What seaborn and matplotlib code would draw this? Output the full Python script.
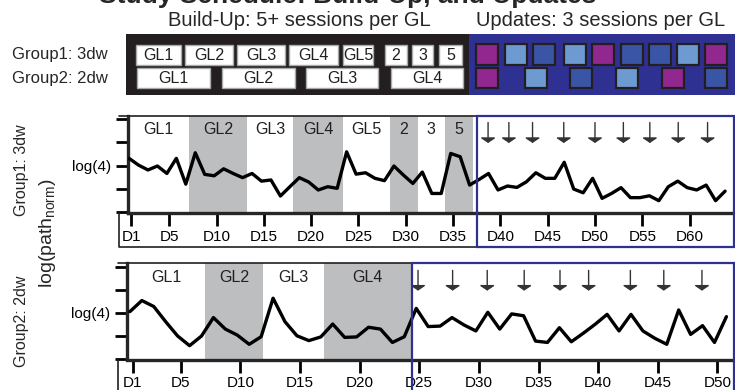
import numpy as np
import pandas as pd
import seaborn as sns
import matplotlib
matplotlib.use('Agg')
import matplotlib.pyplot as plt
from matplotlib.patches import Rectangle

# ---- data ----
# Group1 (3 days/week): one value per session, 64 sessions
g1_vals = [2.31, 2.02, 1.81, 1.98, 1.66, 2.31, 1.20, 2.55, 1.62, 1.56,
           1.86, 1.66, 1.48, 1.66, 1.33, 1.38, 0.69, 1.09, 1.48, 1.29,
           0.95, 1.09, 1.02, 2.59, 1.63, 1.69,
           1.45, 1.35, 1.98, 1.59, 1.23, 1.72, 0.80, 0.80, 2.52, 2.38,
           1.16, 1.40, 1.66, 0.95, 1.12, 1.06, 1.30, 1.69, 1.45, 1.45,
           2.14, 0.99, 0.83, 1.45, 0.59, 0.80, 1.05, 0.62, 0.62, 0.70,
           0.49, 1.09, 1.33, 1.05, 0.95, 1.16, 0.49, 0.90]
# Group2 (2 days/week): 51 sessions
g2_vals = [2.06, 2.54, 2.28, 1.62, 1.00, 0.58, 1.00, 1.80, 1.30, 1.04,
           0.64, 0.97, 2.64, 1.62, 1.01, 0.80, 0.96, 1.52, 0.94, 0.96,
           1.38, 1.30, 0.72, 0.97,
           2.20, 1.41, 1.43, 1.80, 1.48, 1.22, 2.03, 1.30, 1.96, 1.88,
           0.78, 0.72, 1.36, 0.75, 1.12, 1.51, 1.94, 1.22, 1.94, 1.22,
           0.90, 0.64, 2.13, 1.07, 1.45, 0.72, 1.84]

g1_phase_labels = ['GL1', 'GL2', 'GL3', 'GL4', 'GL5', '2', '3', '5']
g1_phase_edges = [0.64, 7.1, 13.22, 18.08, 23.36, 28.3, 31.3, 34.1, 37.1]
g1_update_start = 37.5
g1_update_days = [38.7, 40.9, 43.4, 46.7, 50.0, 53.0, 55.8, 58.8, 61.9]
g1_tick_days = [1, 5, 10, 15, 20, 25, 30, 35, 40, 45, 50, 55, 60]

g2_phase_labels = ['GL1', 'GL2', 'GL3', 'GL4']
g2_phase_edges = [0.5, 7.04, 11.9, 17.0, 24.4]
g2_update_start = 24.4
g2_update_days = [24.9, 27.8, 30.7, 33.8, 36.8, 39.2, 42.7, 45.5, 48.7]
g2_tick_days = [1, 5, 10, 15, 20, 25, 30, 35, 40, 45, 50]

# schedule schematic (build-up blocks and update sessions)
sched_row1_labels = ['GL1', 'GL2', 'GL3', 'GL4', 'GL5', '2', '3', '5']
sched_row1_spans = [(136, 181), (185, 233), (237, 285), (289, 338),
                    (343, 373), (385, 407), (412, 433), (439, 462)]
sched_row2_labels = ['GL1', 'GL2', 'GL3', 'GL4']
sched_row2_spans = [(137, 210), (222, 295), (306, 378), (391, 463)]
upd_row1_left = [476, 505, 533, 564, 592, 621, 649, 677, 705]
upd_row1_kind = ['M', 'L', 'D', 'L', 'M', 'D', 'D', 'L', 'M']
upd_row2_left = [476, 525, 570, 616, 662, 705]
upd_row2_kind = ['M', 'L', 'D', 'L', 'M', 'D']

NAVY = '#2E3192'
KIND_COLORS = {'M': '#92278F', 'L': '#6C9AD1', 'D': '#3A55A5'}
SHADE = '#BCBEC0'

sns.set_style('ticks')
plt.rcParams['font.family'] = ['Liberation Sans', 'DejaVu Sans']
plt.rcParams['mathtext.fontset'] = 'custom'
plt.rcParams['mathtext.rm'] = 'Liberation Sans'

W, H = 735, 390
fig = plt.figure(figsize=(W / 100, H / 100), dpi=100)


def fig_box(x0, y0, x1, y1):
    # pixel box (top-left origin) -> figure fraction rect
    return [x0 / W, 1 - y1 / H, (x1 - x0) / W, (y1 - y0) / H]


def draw_panel(ax, vals, xlim, labels, edges, upd_start, upd_days, ticks,
               ylim, box_bottom):
    df = pd.DataFrame({'day': np.arange(1, len(vals) + 1) - 0.25, 'val': vals})
    for i, lab in enumerate(labels):
        s, e = edges[i], edges[i + 1]
        if i % 2 == 1:
            ax.axvspan(s, e, color=SHADE, lw=0, zorder=0)
        ax.text((s + e) / 2, 3.55, lab, ha='center', va='center',
                fontsize=11.5, color='#231F20')
    sns.lineplot(data=df, x='day', y='val', ax=ax, color='black', lw=2.4,
                 legend=False, zorder=3)
    for d in upd_days:
        ax.annotate('', xy=(d, 2.97), xytext=(d, 3.85),
                    arrowprops=dict(arrowstyle='-|>,head_length=0.3,head_width=0.45',
                                    color='#333333', lw=1.0, shrinkA=0, shrinkB=0))
    ax.set_xlim(*xlim)
    ax.set_ylim(*ylim)
    ax.set_xticks(ticks)
    ax.set_xticklabels(['D%d' % d for d in ticks])
    ax.set_yticks([0, 1, 2, 3, 4])
    ax.set_yticklabels(['', '', 'log(4)', '', ''])
    ax.set_xlabel('')
    ax.set_ylabel('')
    for side in ['top', 'right']:
        ax.spines[side].set_visible(False)
    ax.spines['left'].set_linewidth(2.4)
    ax.spines['bottom'].set_linewidth(2.4)
    ax.tick_params(axis='both', direction='out', length=9, width=2.0,
                   labelsize=11, colors='black', pad=3, bottom=True, left=True)
    ax.patch.set_alpha(0)
    # outline boxes: build-up (black, open on the left above the axis)
    # and updates (navy)
    span = xlim[1] - xlim[0]
    left = xlim[0] - span * 9 / 607
    tr = ax.get_xaxis_transform()
    ax.plot([upd_start, left], [1, 1], transform=tr, color='#231F20', lw=1.2,
            clip_on=False, zorder=4)
    ax.plot([left, left, upd_start], [0, box_bottom, box_bottom], transform=tr,
            color='#231F20', lw=1.2, clip_on=False, zorder=4)
    ax.add_patch(Rectangle((upd_start, box_bottom), xlim[1] - 0.1 - upd_start,
                           1 - box_bottom, transform=tr,
                           fill=False, ec=NAVY, lw=1.6, clip_on=False, zorder=4))


ax1 = fig.add_axes(fig_box(128, 116, 735, 213))
draw_panel(ax1, g1_vals, (0.64, 64.8), g1_phase_labels, g1_phase_edges,
           g1_update_start, g1_update_days, g1_tick_days, (-0.04, 4.13), -0.35)

ax2 = fig.add_axes(fig_box(127, 263, 735, 359.5))
draw_panel(ax2, g2_vals, (0.505, 51.47), g2_phase_labels, g2_phase_edges,
           g2_update_start, g2_update_days, g2_tick_days, (-0.02, 4.17), -0.5)

# schedule schematic
sch = fig.add_axes(fig_box(126, 33, 735, 96))
sch.set_xlim(126, 735)
sch.set_ylim(96, 33)
sch.axis('off')
sch.add_patch(Rectangle((126, 34), 469 - 126, 61, fc='#231F20', ec='none'))
sch.add_patch(Rectangle((469, 34), 735 - 469, 61, fc=NAVY, ec='none'))
for labels, spans, (y0, y1) in [(sched_row1_labels, sched_row1_spans, (45, 65)),
                                (sched_row2_labels, sched_row2_spans, (68, 88))]:
    for lab, (s, e) in zip(labels, spans):
        sch.add_patch(Rectangle((s, y0), e - s, y1 - y0, fc='white',
                                ec='#A7A9AC', lw=1.0))
        sch.text((s + e) / 2, (y0 + y1) / 2 + 0.5, lab, ha='center', va='center',
                 fontsize=11.5, color='#231F20')
for lefts, kinds, (y0, y1) in [(upd_row1_left, upd_row1_kind, (44, 65)),
                               (upd_row2_left, upd_row2_kind, (68, 88))]:
    for xl, k in zip(lefts, kinds):
        sch.add_patch(Rectangle((xl, y0), 22, y1 - y0, fc=KIND_COLORS[k],
                                ec='#231F20', lw=1.6))

# texts (title is cropped at the top edge, as in the reference)
fig.text(348 / W, 1 - 2.5 / H, 'Study Schedule: Build-Up, and Updates',
         ha='center', va='baseline', fontsize=19, fontweight='bold')
fig.text(299 / W, 1 - 20 / H, 'Build-Up: 5+ sessions per GL', ha='center',
         va='center', fontsize=14.5)
fig.text(601 / W, 1 - 20 / H, 'Updates: 3 sessions per GL', ha='center',
         va='center', fontsize=14.5)
fig.text(12 / W, 1 - 55 / H, 'Group1: 3dw', ha='left', va='center', fontsize=12)
fig.text(12 / W, 1 - 78 / H, 'Group2: 2dw', ha='left', va='center', fontsize=12)
fig.text(22 / W, 1 - 170 / H, 'Group1: 3dw', rotation=90, ha='center',
         va='center', fontsize=11.5)
fig.text(22 / W, 1 - 321 / H, 'Group2: 2dw', rotation=90, ha='center',
         va='center', fontsize=11.5)
fig.text(47 / W, 1 - 233 / H, r'log(path$_{\rm norm}$)', rotation=90,
         ha='center', va='center', fontsize=14)

fig.savefig('out.png', dpi=100)
